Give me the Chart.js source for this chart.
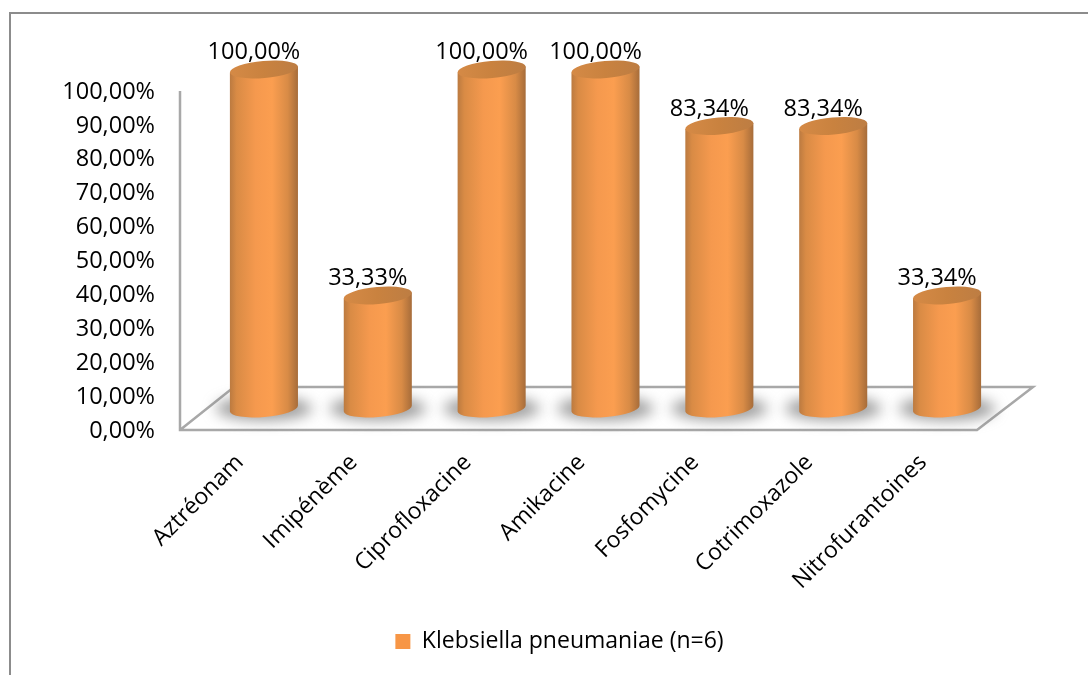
<!DOCTYPE html>
<html lang="fr">
<head>
<meta charset="utf-8">
<title>Klebsiella pneumaniae (n=6)</title>
<script src="https://cdn.jsdelivr.net/npm/chart.js@4/dist/chart.umd.min.js"></script>
<style>
  html, body { margin: 0; padding: 0; background: #fff; overflow: hidden; }
  #wrap { position: relative; width: 1088px; height: 675px; }
</style>
</head>
<body>
<div id="wrap"><canvas id="chart" width="1088" height="675"></canvas></div>
<script>
const categories = ['Aztréonam', 'Imipénème', 'Ciprofloxacine', 'Amikacine', 'Fosfomycine', 'Cotrimoxazole', 'Nitrofurantoines'];
const resistance = [100, 33.33, 100, 100, 83.34, 83.34, 33.34];
const seriesName = 'Klebsiella pneumaniae (n=6)';
const tickStep = 10;

const FONT = '"Open Sans", sans-serif';
const DEPTH_X = 54, DEPTH_Y = 43;      // floor depth of the pseudo-3D plot box
const TILT = -5 * Math.PI / 180;       // slant of the cylinder caps
const CAP_RY = 8.5;

const percent = v => v.toFixed(2).replace('.', ',') + '%';

// Outer frame, y axis and floor parallelogram
const plotBox = {
  id: 'plotBox',
  afterLayout(chart) {
    // centre the legend on the page rather than on the space left of the plot padding
    chart.legend.left += 142;
  },
  beforeDatasetsDraw(chart) {
    const { ctx, chartArea: a } = chart;
    ctx.save();
    ctx.strokeStyle = '#8c8c8c';
    ctx.lineWidth = 2;
    ctx.beginPath();
    ctx.moveTo(10, 675); ctx.lineTo(10, 13); ctx.lineTo(1088, 13);
    ctx.stroke();

    ctx.strokeStyle = '#a8a8a8';
    ctx.lineWidth = 2.5;
    ctx.lineJoin = 'miter';
    ctx.beginPath();
    ctx.moveTo(a.left, a.top);
    ctx.lineTo(a.left, a.bottom);
    ctx.lineTo(a.right, a.bottom);
    ctx.lineTo(a.right + DEPTH_X + 2, a.bottom - DEPTH_Y);
    ctx.lineTo(a.left + DEPTH_X, a.bottom - DEPTH_Y);
    ctx.lineTo(a.left, a.bottom);
    ctx.stroke();
    ctx.restore();
  }
};

// Each bar element is painted as a shaded cylinder standing mid-depth on the floor
const cylinders = {
  id: 'cylinders',
  beforeDatasetDraw(chart, args) {
    const { ctx } = chart;
    const dx = DEPTH_X / 2, dy = DEPTH_Y / 2;
    const bars = args.meta.data;

    bars.forEach(bar => {
      const cx = bar.x + dx, base = bar.base - dy;
      ctx.save();
      ctx.filter = 'blur(7px)';
      ctx.fillStyle = 'rgba(115,115,115,0.7)';
      ctx.beginPath();
      ctx.ellipse(cx, base, bar.width / 2 + 14, 12, 0, 0, Math.PI * 2);
      ctx.fill();
      ctx.restore();
    });

    bars.forEach((bar, i) => {
      const cx = bar.x + dx, top = bar.y - dy, base = bar.base - dy;
      const rx = bar.width / 2;
      const sx = Math.cos(TILT) * rx, sy = Math.sin(TILT) * rx;

      const side = ctx.createLinearGradient(cx - rx, 0, cx + rx, 0);
      side.addColorStop(0, '#bb7a40');
      side.addColorStop(0.1, '#d98b45');
      side.addColorStop(0.38, '#f5994e');
      side.addColorStop(0.62, '#fb9e50');
      side.addColorStop(0.85, '#d88b46');
      side.addColorStop(1, '#a66c3a');

      ctx.save();
      ctx.fillStyle = side;
      ctx.beginPath();
      ctx.moveTo(cx - sx, top - sy);
      ctx.lineTo(cx + sx, top + sy);
      ctx.lineTo(cx + sx, base + sy);
      ctx.ellipse(cx, base, rx, CAP_RY, TILT, 0, Math.PI);
      ctx.closePath();
      ctx.fill();

      const cap = ctx.createLinearGradient(cx - rx, 0, cx + rx, 0);
      cap.addColorStop(0, '#d58a46');
      cap.addColorStop(0.5, '#c9823f');
      cap.addColorStop(1, '#bd7d43');
      ctx.fillStyle = cap;
      ctx.beginPath();
      ctx.ellipse(cx, top, rx, CAP_RY, TILT, 0, Math.PI * 2);
      ctx.fill();

      ctx.fillStyle = '#000';
      ctx.font = `23.5px ${FONT}`;
      ctx.textAlign = 'center';
      ctx.textBaseline = 'middle';
      ctx.fillText(percent(resistance[i]), bar.x + 17, top - 17);
      ctx.restore();
    });
    return false;
  }
};

new Chart(document.getElementById('chart'), {
  type: 'bar',
  data: {
    labels: categories,
    datasets: [{
      label: seriesName,
      data: resistance,
      backgroundColor: '#f79646',
      barPercentage: 1,
      categoryPercentage: 0.6
    }]
  },
  plugins: [plotBox, cylinders],
  options: {
    responsive: false,
    animation: false,
    events: [],
    layout: { padding: { top: 91, right: 111, bottom: 12, left: 0 } },
    plugins: {
      tooltip: { enabled: false },
      legend: {
        position: 'bottom',
        labels: {
          boxWidth: 15,
          boxHeight: 15,
          padding: 6,
          color: '#000',
          font: { family: FONT, size: 23 }
        }
      }
    },
    scales: {
      y: {
        min: 0,
        max: 100,
        afterFit(scale) { scale.width = 180; },
        border: { display: false },
        grid: { display: false, drawTicks: false },
        ticks: {
          stepSize: tickStep,
          padding: 25,
          labelOffset: 1,
          color: '#000',
          font: { family: FONT, size: 23.5 },
          callback: v => percent(v)
        }
      },
      x: {
        afterFit(scale) { scale.height = 194; },
        border: { display: false },
        grid: { display: false, drawTicks: false },
        ticks: {
          autoSkip: false,
          minRotation: 45,
          maxRotation: 45,
          labelOffset: 3,
          padding: 19,
          color: '#000',
          font: { family: FONT, size: 23 }
        }
      }
    }
  }
});
</script>
</body>
</html>
